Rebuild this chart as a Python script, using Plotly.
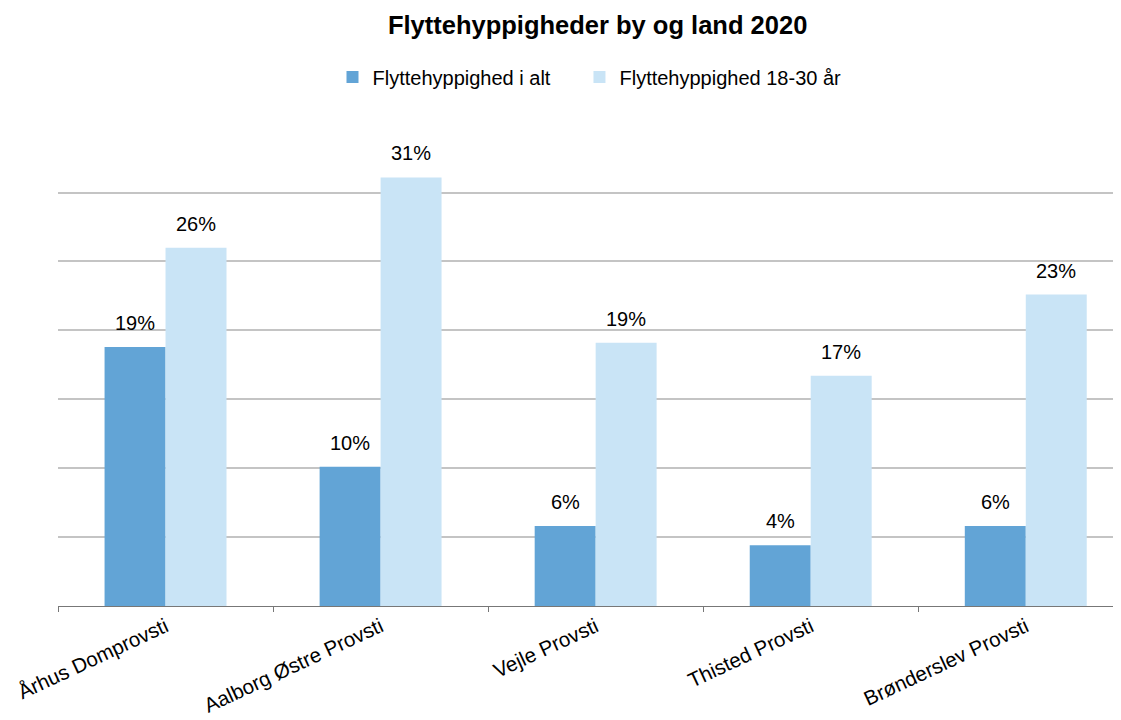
import plotly.graph_objects as go

categories = ["Århus Domprovsti", "Aalborg Østre Provsti", "Vejle Provsti", "Thisted Provsti", "Brønderslev Provsti"]
total_values = [18.8, 10.1, 5.8, 4.4, 5.8]
young_values = [26.0, 31.1, 19.1, 16.7, 22.6]
series_names = ["Flyttehyppighed i alt", "Flyttehyppighed 18-30 år"]
colors = ["#62A4D6", "#C9E4F6"]

BARGAP = 0.433
X_RANGE = [-0.5, 4.48]
MARGIN = dict(l=50, r=0, t=115, b=122)
WIDTH, HEIGHT = 1121, 720

fig = go.Figure()
legends = ["legend", "legend2"]
for name, vals, col, lg in zip(series_names, [total_values, young_values], colors, legends):
    fig.add_trace(go.Bar(
        x=categories, y=vals, name=name, marker_color=col, marker_line_width=0,
        legend=lg,
    ))

# value labels above bars (centred over each bar of the group)
plot_w = WIDTH - MARGIN["l"] - MARGIN["r"]
px_per_cat = plot_w / (X_RANGE[1] - X_RANGE[0])
bar_w = px_per_cat * (1 - BARGAP) / 2
for k, vals in enumerate([total_values, young_values]):
    shift = (k - 0.5) * bar_w
    for cat, v in zip(categories, vals):
        fig.add_annotation(x=cat, y=v, text=f"{v:.0f}%", showarrow=False,
                           xshift=shift, yshift=11, yanchor="bottom",
                           font=dict(size=20, color="#000000"))

fig.update_layout(
    width=WIDTH, height=HEIGHT,
    paper_bgcolor="white", plot_bgcolor="white",
    font=dict(family="Liberation Sans, Arial, sans-serif", color="#000000"),
    title=dict(text="<b>Flyttehyppigheder by og land 2020</b>", x=0.526, xanchor="center",
               y=0.976, yanchor="middle", font=dict(size=25.5)),
    legend=dict(orientation="h", x=0.2563, xanchor="left", y=1.095, yanchor="middle",
                font=dict(size=20), itemwidth=30),
    legend2=dict(orientation="h", x=0.4869, xanchor="left", y=1.095, yanchor="middle",
                 font=dict(size=20), itemwidth=30),
    barmode="group", bargap=BARGAP, bargroupgap=0,
    margin=MARGIN,
    showlegend=True,
)
fig.update_xaxes(
    range=X_RANGE, showline=True, linecolor="#777777", linewidth=1,
    ticks="outside", tickson="boundaries", ticklen=5, tickcolor="#777777",
    tickangle=-25, tickfont=dict(size=20.5), ticklabelstandoff=0, showgrid=False,
)
fig.update_yaxes(
    range=[0, 35.05], dtick=5, showticklabels=False, showgrid=True,
    gridcolor="#C4C4C4", gridwidth=1.5, zeroline=False,
)

fig.write_html("out.html")
